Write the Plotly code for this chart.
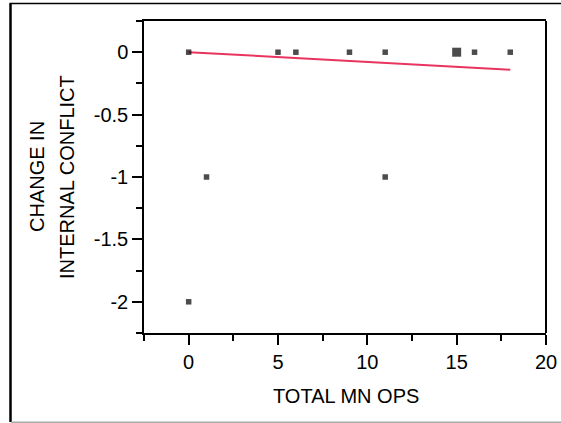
import plotly.graph_objects as go

# ---- data ----
x_vals = [0, 5, 6, 9, 11, 15, 16, 18, 1, 11, 0]
y_vals = [0, 0, 0, 0, 0, 0, 0, 0, -1, -1, -2]
counts = [1, 1, 1, 1, 1, 3, 1, 1, 1, 1, 1]   # overlapping observations (bigger marker)
fit_x = [0, 18]
fit_y = [0.0, -0.14]
x_tick_vals = [0, 5, 10, 15, 20]
y_tick_vals = [0, -0.5, -1, -1.5, -2]
x_title = "TOTAL MN OPS"
y_title_lines = ["CHANGE IN", "INTERNAL CONFLICT"]

W, H = 561, 423
L, R, T, B = 144, 15, 21, 90
pw, ph = W - L - R, H - T - B

def px_to_paper_x(px):
    return (px - L) / pw

def px_to_paper_y(py):
    return (H - B - py) / ph

FONT = "Liberation Sans, Arial, sans-serif"

marker_sizes = [5.5 if c == 1 else 9 for c in counts]

fig = go.Figure()
fig.add_trace(go.Scatter(
    x=fit_x, y=fit_y, mode="lines",
    line=dict(color="#E8345F", width=2),
    showlegend=False, hoverinfo="skip"))
fig.add_trace(go.Scatter(
    x=x_vals, y=y_vals, mode="markers",
    marker=dict(symbol="square", size=marker_sizes, color="black", line=dict(width=0)),
    showlegend=False))

fig.update_layout(
    width=W, height=H,
    margin=dict(l=L, r=R, t=T, b=B, pad=0, autoexpand=False),
    paper_bgcolor="white", plot_bgcolor="white",
    font=dict(family=FONT, size=20, color="black"),
    xaxis=dict(
        range=[-2.5, 20], tickmode="array", tickvals=x_tick_vals,
        ticktext=[str(v) for v in x_tick_vals], automargin=False,
        ticks="outside", ticklen=10, tickwidth=1.5, tickcolor="black",
        showline=True, linewidth=2, linecolor="black", mirror=True,
        showgrid=False, zeroline=False,
        tickfont=dict(family=FONT, size=20),
        minor=dict(tickmode="linear", tick0=0, dtick=2.5, ticks="outside",
                   ticklen=6, tickwidth=1.5, tickcolor="black", showgrid=False),
    ),
    yaxis=dict(
        range=[-2.25, 0.25], tickmode="array", tickvals=y_tick_vals,
        ticktext=["0", "-0.5", "-1", "-1.5", "-2"], automargin=False,
        ticks="outside", ticklen=10, tickwidth=1.5, tickcolor="black",
        showline=True, linewidth=1.5, linecolor="black", mirror=False,
        showgrid=False, zeroline=False,
        tickfont=dict(family=FONT, size=20),
        minor=dict(tickmode="linear", tick0=0, dtick=0.25, ticks="outside",
                   ticklen=6, tickwidth=1.5, tickcolor="black", showgrid=False),
    ),
)

# right border of plot frame (thicker)
fig.add_shape(type="line", xref="paper", yref="paper", x0=1, x1=1, y0=0, y1=1,
              line=dict(color="black", width=2))

# outer frame lines
fig.add_shape(type="line", xref="paper", yref="paper",
              x0=px_to_paper_x(10.5), x1=px_to_paper_x(10.5),
              y0=px_to_paper_y(3.5), y1=px_to_paper_y(422),
              line=dict(color="black", width=2.5))
fig.add_shape(type="line", xref="paper", yref="paper",
              x0=px_to_paper_x(9.5), x1=px_to_paper_x(561),
              y0=px_to_paper_y(3.5), y1=px_to_paper_y(3.5),
              line=dict(color="black", width=1.5))
fig.add_shape(type="line", xref="paper", yref="paper",
              x0=px_to_paper_x(11), x1=px_to_paper_x(561),
              y0=px_to_paper_y(422.3), y1=px_to_paper_y(422.3),
              line=dict(color="#aaaaaa", width=1.5))

# axis titles
fig.add_annotation(text=x_title, xref="paper", yref="paper",
                   x=px_to_paper_x(345.5), y=px_to_paper_y(396),
                   xanchor="center", yanchor="middle", showarrow=False,
                   font=dict(family=FONT, size=20, color="black"))
for cx, line in zip([37, 67], y_title_lines):
    fig.add_annotation(text=line, xref="paper", yref="paper",
                       x=px_to_paper_x(cx), y=px_to_paper_y(177),
                       xanchor="center", yanchor="middle", textangle=-90,
                       showarrow=False,
                       font=dict(family=FONT, size=20, color="black"))

fig.write_html(
    "out.html",
    config={"displayModeBar": False},
    post_script="document.body.style.margin='0';document.body.style.padding='0';"
                "document.body.style.overflow='hidden';",
)
